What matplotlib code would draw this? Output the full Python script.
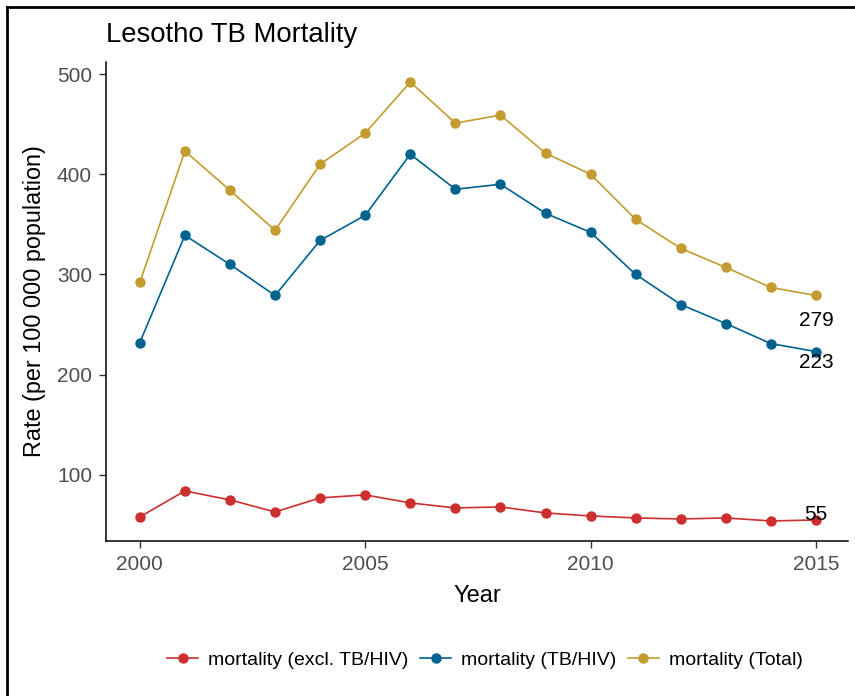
import matplotlib
matplotlib.use("Agg")
import matplotlib.pyplot as plt
from matplotlib.lines import Line2D

years = list(range(2000, 2016))
excl_tbhiv = [58, 84, 75, 63, 77, 80, 72, 67, 68, 62, 59, 57, 56, 57, 54, 55]
tbhiv = [232, 339, 310, 279, 334, 359, 420, 385, 390, 361, 342, 300, 270, 251, 231, 223]
total = [292, 423, 384, 344, 410, 441, 492, 451, 459, 421, 400, 355, 326, 307, 287, 279]
series_names = ["mortality (excl. TB/HIV)", "mortality (TB/HIV)", "mortality (Total)"]
colors = ["#cd2f2f", "#00628f", "#c39b31"]
x_ticks = [2000, 2005, 2010, 2015]
y_ticks = [100, 200, 300, 400, 500]

plt.rcParams["font.family"] = ["Liberation Sans", "DejaVu Sans"]

fig = plt.figure(figsize=(8.55, 6.96), dpi=100)
ax = fig.add_axes([106/855, 1 - 541/696, (848-106)/855, (541-62)/696])

data = [excl_tbhiv, tbhiv, total]
for vals, name, c in zip(data, series_names, colors):
    ax.plot(years, vals, color=c, lw=1.2, marker="o", ms=6.5, label=name)

# end labels
offsets = [(0, 4), (0, -8), (0, -18)]
for vals, off in zip(data, offsets):
    ax.annotate(str(vals[-1]), (years[-1], vals[-1]), xytext=off, textcoords="offset points",
                ha="center", va="center", fontsize=15, color="black")

ax.set_xlim(1999.25, 2015.71)
ax.set_ylim(34, 512)
ax.set_xticks(x_ticks)
ax.set_yticks(y_ticks)
for s in ["top", "right"]:
    ax.spines[s].set_visible(False)
for s in ["left", "bottom"]:
    ax.spines[s].set_linewidth(1.1)
ax.tick_params(axis="both", direction="out", length=5, width=1.0, color="#333333",
               labelsize=15, labelcolor="#4d4d4d", pad=5)

ax.set_xlabel("Year", fontsize=17, labelpad=8)
ax.set_ylabel("Rate (per 100 000 population)", fontsize=16.8, labelpad=8)
fig.text(106/855, 1 - 35/696, "Lesotho TB Mortality", fontsize=19.8, ha="left", va="center")

leg = fig.legend(loc="center", bbox_to_anchor=(0.567, 1 - 660/696), ncol=3, frameon=False,
                 fontsize=14, handlelength=1.6, columnspacing=0.6, handletextpad=0.5)

# figure border (left and top visible)
fig.add_artist(Line2D([7/855, 7/855], [0, 1 - 7/696], color="black", lw=2, transform=fig.transFigure))
fig.add_artist(Line2D([7/855, 1], [1 - 7/696, 1 - 7/696], color="black", lw=2, transform=fig.transFigure))

fig.savefig("out.png", dpi=100)
